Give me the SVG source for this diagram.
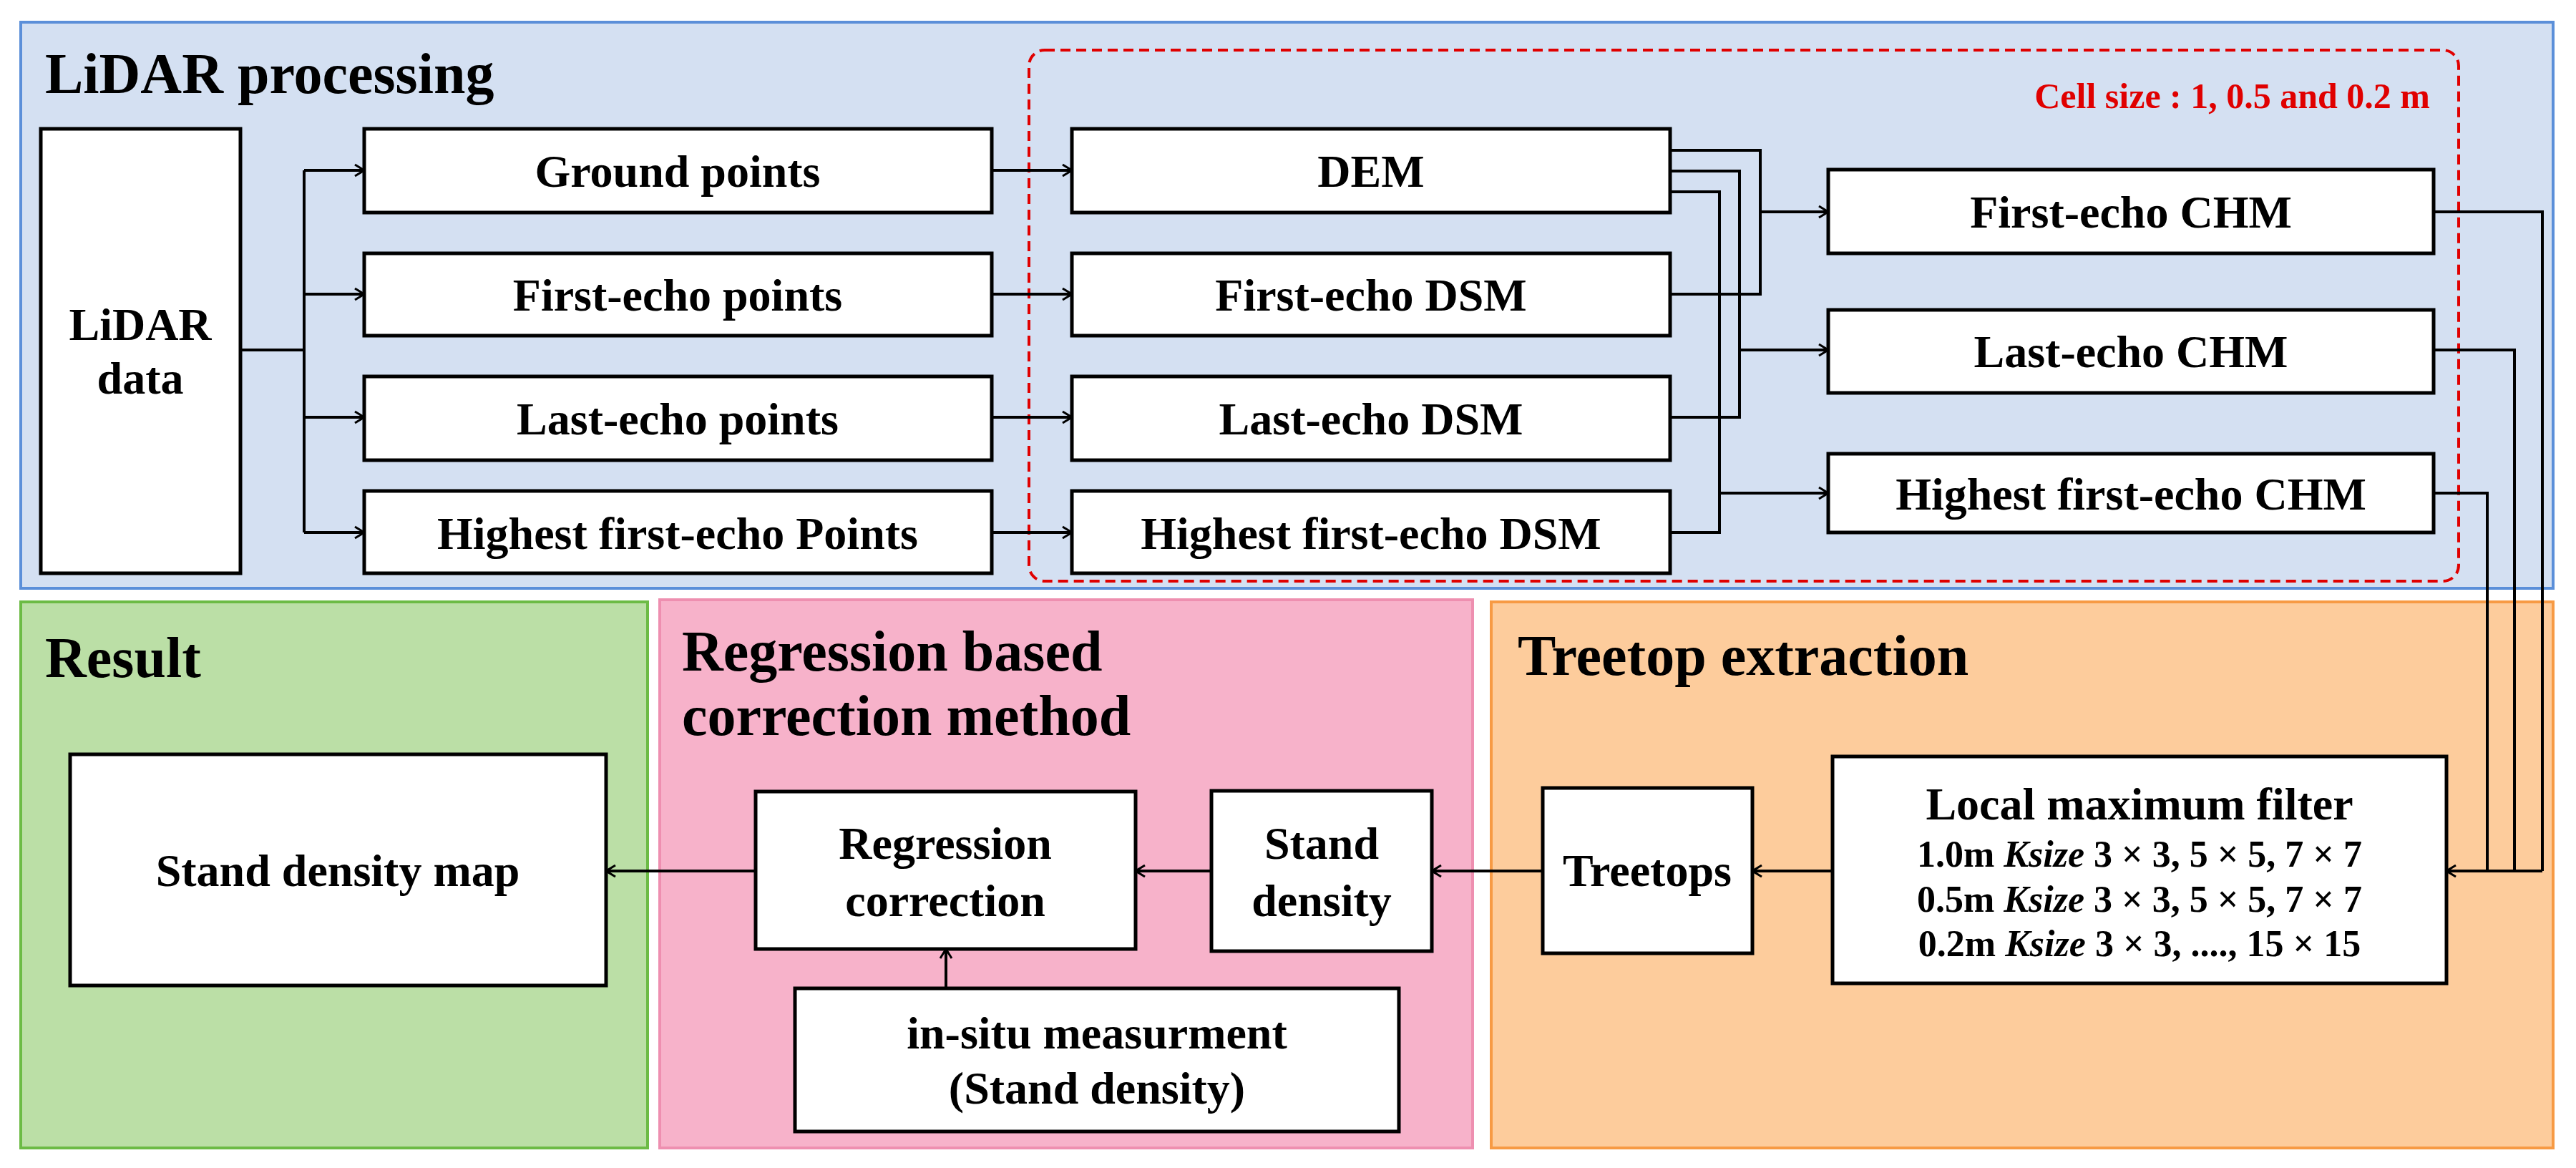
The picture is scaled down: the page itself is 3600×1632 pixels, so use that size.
<svg xmlns="http://www.w3.org/2000/svg" width="3600" height="1632" viewBox="0 0 3600 1632">
<style>
text{font-family:"Liberation Serif","Times New Roman",serif;font-weight:bold;fill:#000}
.t{font-size:80px}
.b{font-size:64px;text-anchor:middle}
.s{font-size:52px;text-anchor:middle}
.box{fill:#fff;stroke:#000;stroke-width:5}
.c{fill:none;stroke:#000;stroke-width:4}
</style>
<defs>
<marker id="a" viewBox="0 0 20 20" refX="19" refY="10" markerWidth="20" markerHeight="20" markerUnits="userSpaceOnUse" orient="auto">
<polyline points="6,2 19,10 6,18" fill="none" stroke="#000" stroke-width="3"/>
</marker>
</defs>
<g id="panels">
<rect x="29" y="31" width="3539" height="791" fill="#d4e0f2" stroke="#5b8fd9" stroke-width="4"/>
<rect x="29" y="841" width="876" height="763" fill="#bbdfa6" stroke="#6cbb45" stroke-width="4"/>
<rect x="922" y="838" width="1136" height="766" fill="#f7b2ca" stroke="#ee8fb0" stroke-width="4"/>
<rect x="2084" y="841" width="1484" height="763" fill="#fdcc9c" stroke="#f79a44" stroke-width="4"/>
<text class="t" x="63" y="130">LiDAR processing</text>
<text class="t" x="63" y="946">Result</text>
<text class="t" x="953" y="937">Regression based</text>
<text class="t" x="953" y="1027">correction method</text>
<text class="t" x="2121" y="943">Treetop extraction</text>
<rect x="1438" y="70" width="1998" height="742" rx="22" fill="none" stroke="#e00000" stroke-width="4" stroke-dasharray="14 8"/>
<text x="3396" y="151" style="font-size:50px;fill:#e00000;text-anchor:end">Cell size : 1, 0.5 and 0.2 m</text>
</g>
<g id="connectors">
<path class="c" d="M336 489H425M425 238V744"/>
<path class="c" marker-end="url(#a)" d="M425 238H509"/>
<path class="c" marker-end="url(#a)" d="M425 411H509"/>
<path class="c" marker-end="url(#a)" d="M425 583H509"/>
<path class="c" marker-end="url(#a)" d="M425 744H509"/>
<path class="c" marker-end="url(#a)" d="M1386 238H1498"/>
<path class="c" marker-end="url(#a)" d="M1386 411H1498"/>
<path class="c" marker-end="url(#a)" d="M1386 583H1498"/>
<path class="c" marker-end="url(#a)" d="M1386 744H1498"/>
<path class="c" d="M2334 210H2460V411H2334M2334 239H2431V583H2334M2334 268H2403V744H2334"/>
<path class="c" marker-end="url(#a)" d="M2460 296H2555"/>
<path class="c" marker-end="url(#a)" d="M2431 489H2555"/>
<path class="c" marker-end="url(#a)" d="M2403 689H2555"/>
<path class="c" d="M3401 296H3553V1217M3401 489H3514V1217M3401 689H3476V1217"/>
<path class="c" marker-end="url(#a)" d="M3553 1217H3419"/>
<path class="c" marker-end="url(#a)" d="M2561 1217H2449"/>
<path class="c" marker-end="url(#a)" d="M2156 1217H2001"/>
<path class="c" marker-end="url(#a)" d="M1693 1217H1587"/>
<path class="c" marker-end="url(#a)" d="M1056 1217H847"/>
<path class="c" marker-end="url(#a)" d="M1322 1381V1326"/>
</g>
<g id="lidar-data"><rect class="box" x="57" y="180" width="279" height="621"/><text class="b" x="196" y="475">LiDAR</text><text class="b" x="196" y="550">data</text></g>
<g id="ground-points"><rect class="box" x="509" y="180" width="877" height="117"/><text class="b" x="947" y="261">Ground points</text></g>
<g id="first-echo-points"><rect class="box" x="509" y="354" width="877" height="115"/><text class="b" x="947" y="434">First-echo points</text></g>
<g id="last-echo-points"><rect class="box" x="509" y="526" width="877" height="117"/><text class="b" x="947" y="607">Last-echo points</text></g>
<g id="highest-points"><rect class="box" x="509" y="686" width="877" height="115"/><text class="b" x="947" y="767">Highest first-echo Points</text></g>
<g id="dem"><rect class="box" x="1498" y="180" width="836" height="117"/><text class="b" x="1916" y="261">DEM</text></g>
<g id="first-dsm"><rect class="box" x="1498" y="354" width="836" height="115"/><text class="b" x="1916" y="434">First-echo DSM</text></g>
<g id="last-dsm"><rect class="box" x="1498" y="526" width="836" height="117"/><text class="b" x="1916" y="607">Last-echo DSM</text></g>
<g id="highest-dsm"><rect class="box" x="1498" y="686" width="836" height="115"/><text class="b" x="1916" y="767">Highest first-echo DSM</text></g>
<g id="first-chm"><rect class="box" x="2555" y="237" width="846" height="117"/><text class="b" x="2978" y="318">First-echo CHM</text></g>
<g id="last-chm"><rect class="box" x="2555" y="433" width="846" height="116"/><text class="b" x="2978" y="513">Last-echo CHM</text></g>
<g id="highest-chm"><rect class="box" x="2555" y="634" width="846" height="110"/><text class="b" x="2978" y="712">Highest first-echo CHM</text></g>
<g id="local-max"><rect class="box" x="2561" y="1057" width="858" height="317"/>
<text class="b" x="2990" y="1145">Local maximum filter</text>
<text class="s" x="2990" y="1211">1.0m <tspan font-style="italic">Ksize</tspan> 3 × 3, 5 × 5, 7 × 7</text>
<text class="s" x="2990" y="1274">0.5m <tspan font-style="italic">Ksize</tspan> 3 × 3, 5 × 5, 7 × 7</text>
<text class="s" x="2990" y="1336">0.2m <tspan font-style="italic">Ksize</tspan> 3 × 3, ...., 15 × 15</text></g>
<g id="treetops"><rect class="box" x="2156" y="1101" width="293" height="231"/><text class="b" x="2302" y="1238">Treetops</text></g>
<g id="stand-density"><rect class="box" x="1693" y="1105" width="308" height="224"/><text class="b" x="1847" y="1200">Stand</text><text class="b" x="1847" y="1280">density</text></g>
<g id="regression-correction"><rect class="box" x="1056" y="1106" width="531" height="220"/><text class="b" x="1321" y="1200">Regression</text><text class="b" x="1321" y="1280">correction</text></g>
<g id="in-situ"><rect class="box" x="1111" y="1381" width="844" height="200"/><text class="b" x="1533" y="1465">in-situ measurment</text><text class="b" x="1533" y="1542">(Stand density)</text></g>
<g id="stand-density-map"><rect class="box" x="98" y="1054" width="749" height="323"/><text class="b" x="472" y="1238">Stand density map</text></g>
</svg>
